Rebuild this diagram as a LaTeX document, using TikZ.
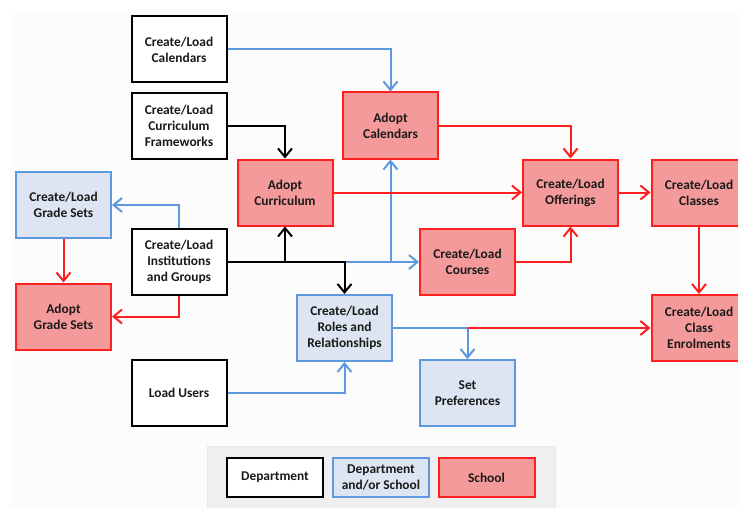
\documentclass[tikz,border=0pt]{standalone}
\usepackage{fontspec}
\setmainfont{Carlito}
\usetikzlibrary{arrows.meta,calc}
\definecolor{rline}{HTML}{FF1F1F}
\definecolor{rfill}{HTML}{F59A9A}
\definecolor{bline}{HTML}{5E98DE}
\definecolor{bfill}{HTML}{DCE5F1}
\definecolor{bg}{HTML}{FBFCFB}
\definecolor{lgbg}{HTML}{EFEFEF}
\definecolor{txt}{HTML}{1A1A1A}
\tikzset{
  box/.style={rectangle, line width=2pt, minimum width=95pt, minimum height=66pt,
    align=center, inner sep=2pt, text=txt,
    font=\fontsize{13.4}{16}\selectfont\bfseries},
  dept/.style={box, draw=black, fill=white},
  both/.style={box, draw=bline, fill=bfill},
  schl/.style={box, draw=rline, fill=rfill},
  tip/.style={-{Straight Barb[length=8.5pt,width=14pt]}},
  bkl/.style={line width=2pt, draw=black},
  bll/.style={line width=2pt, draw=bline},
  rdl/.style={line width=2pt, draw=rline},
}
\begin{document}
\begin{tikzpicture}[x=1pt,y=-1pt]
\useasboundingbox (0,0) rectangle (738,508);
\clip (0,0) rectangle (738,508);
\fill[white] (0,0) rectangle (738,508);
\fill[bg] (10,10) rectangle (738,508);

% legend background
\draw[lgbg!80!gray!60, fill=lgbg] (207,446) rectangle (555,512);

% nodes
\node[dept] (cal)  at (179,49.5)  {Create/Load\\Calendars};
\node[dept] (cfw)  at (179,126)   {Create/Load\\Curriculum\\Frameworks};
\node[both] (gs)   at (63.5,205)  {Create/Load\\Grade Sets};
\node[schl] (acur) at (285,192.5) {Adopt\\Curriculum};
\node[schl] (acal) at (390.5,125.5) {Adopt\\Calendars};
\node[schl] (off)  at (570.5,192.5) {Create/Load\\Offerings};
\node[schl] (cls)  at (699,192.5) {Create/Load\\Classes};
\node[schl] (crs)  at (467.5,262) {Create/Load\\Courses};
\node[dept] (inst) at (179,262)   {Create/Load\\Institutions\\and Groups};
\node[schl] (ags)  at (63.5,316.5) {Adopt\\Grade Sets};
\node[both] (rol)  at (344.5,328) {Create/Load\\Roles and\\Relationships};
\node[dept] (lu)   at (179,393)   {Load Users};
\node[both] (sp)   at (467.5,393) {Set\\Preferences};
\node[schl] (enr)  at (699,328)   {Create/Load\\Class\\Enrolments};

% legend
\node[dept, minimum height=39pt, minimum width=96pt] (ld) at (275,477.5) {Department};
\node[both, minimum height=39pt, minimum width=96pt] (lb) at (381,477.5) {Department\\and/or School};
\node[schl, minimum height=39pt, minimum width=96pt] (ls) at (486.5,477.5) {School};

% junction coordinates
\coordinate (j1) at (acur.south |- inst.east);
\coordinate (j2) at (rol.north |- inst.east);
\coordinate (j3) at (acal.south |- inst.east);
\coordinate (j4) at (sp.north |- rol.east);

% blue connectors
\draw[bll, tip] (cal.east) -| (acal.north);
\draw[bll, tip] (j2) -- (crs.west);
\draw[bll, tip] (j3) -- (acal.south);
\draw[bll, tip] (inst.north) |- (gs.east);
\draw[bll, tip] (lu.east) -| (rol.south);
\draw[bll, tip] (rol.east) -| (sp.north);

% black connectors
\draw[bkl, tip] (cfw.east) -| (acur.north);
\draw[bkl, tip] (inst.east) -- (j2) -- (rol.north);
\draw[bkl, tip] (j1) -- (acur.south);

% red connectors
\draw[rdl, tip] (acal.east) -| (off.north);
\draw[rdl, tip] (acur.east) -- (off.west);
\draw[rdl, tip] (off.east) -- (cls.west);
\draw[rdl, tip] (cls.south) -- (enr.north);
\draw[rdl, tip] (crs.east) -| (off.south);
\draw[rdl, tip] (inst.south) |- (ags.east);
\draw[rdl, tip] (gs.south) -- (ags.north);
\draw[rdl, tip] (j4) -- (enr.west);
\end{tikzpicture}
\end{document}
